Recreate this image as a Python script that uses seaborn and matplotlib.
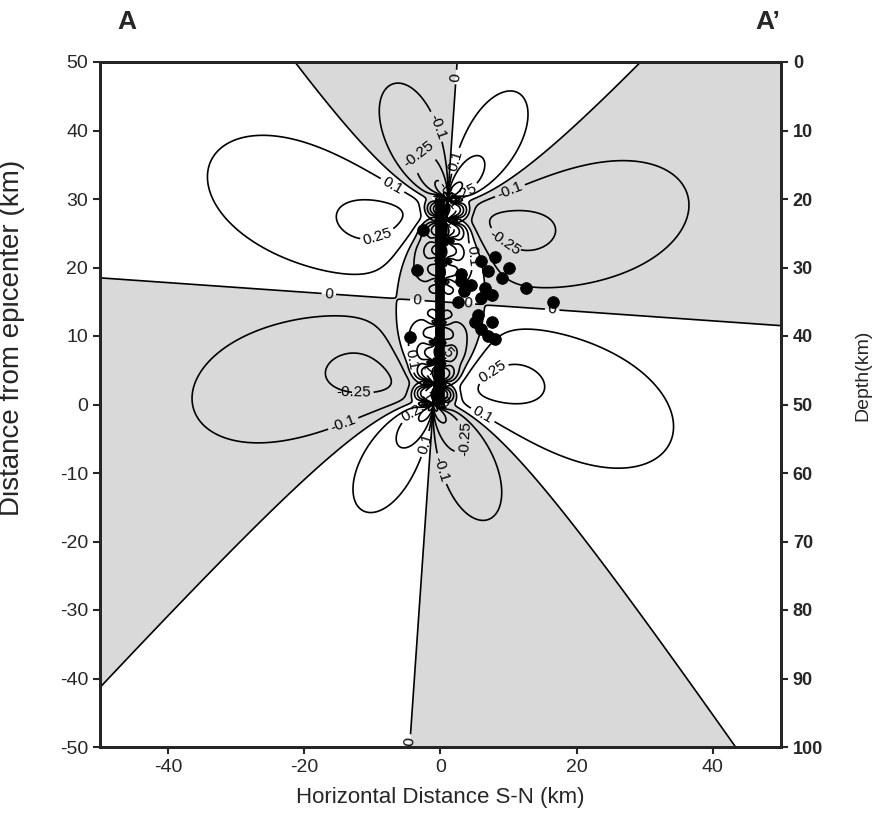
import numpy as np
import matplotlib
matplotlib.use("Agg")
import matplotlib.pyplot as plt
import seaborn as sns

# fault (km): node heights along the rupture and slip on each segment between nodes
fault_nodes = [0, 3, 6, 9, 12, 15, 18, 21, 24, 27, 30]
segment_slip = [0.3, 0.65, 0.85, 0.95, 1.0, 1.0, 0.95, 0.85, 0.65, 0.3]
fault_tilt = -4.0           # degrees from vertical (model only, bar drawn vertical)
stress_scale = -5.6         # bar per unit slip
receiver_angle = -35.7      # degrees, normal of receiver plane
friction = 0.5

levels = [-1, -0.5, -0.25, -0.1, 0, 0.1, 0.25, 0.5, 1]
level_labels = ["-1", "-0.5", "-0.25", "-0.1", "0", "0.1", "0.25", "0.5", "1"]

# aftershocks (km)
shock_x = [3, 3.5, 2.5, 4.5, 3, 6, 7, 6.5, 7.5, 6, 9, 10, 8, 16.5, 12.5,
           5, 6, 7, 8, 5.5, 7.5, -2.5, -4.5, -3.5]
shock_y = [18, 16.5, 15, 17.5, 19, 21, 19.5, 17, 16, 15.5, 18.5, 20, 21.5, 15, 17,
           12, 11, 10, 9.5, 13, 12, 25.5, 9.9, 19.6]

xticks = [-40, -20, 0, 20, 40]
yticks = [-50, -40, -30, -20, -10, 0, 10, 20, 30, 40, 50]
depth_ticks = [0, 10, 20, 30, 40, 50, 60, 70, 80, 90, 100]

sns.set_style("white")
plt.rcParams["font.family"] = ["Liberation Sans", "DejaVu Sans"]
plt.rcParams["axes.unicode_minus"] = False

x = np.linspace(-50, 50, 501)
y = np.linspace(-50, 50, 501)
X, Y = np.meshgrid(x, y)


def edge(u, v, d):
    # edge dislocation, glide plane along u
    r4 = (u**2 + v**2) ** 2 + 1e-6
    suu = -d * v * (3 * u**2 + v**2) / r4
    svv = d * v * (u**2 - v**2) / r4
    suv = d * u * (u**2 - v**2) / r4
    return suu, svv, suv


alpha = np.radians(90 + fault_tilt)
tx_f, ty_f = np.cos(alpha), np.sin(alpha)      # along fault
nx_f, ny_f = -np.sin(alpha), np.cos(alpha)     # across fault
mid = 0.5 * (fault_nodes[0] + fault_nodes[-1])

sxx = np.zeros_like(X)
syy = np.zeros_like(X)
sxy = np.zeros_like(X)
padded = [0.0] + segment_slip + [0.0]
for j, yn in enumerate(fault_nodes):
    b = (padded[j] - padded[j + 1]) * stress_scale
    px, py = (yn - mid) * tx_f, mid + (yn - mid) * ty_f
    u = (X - px) * tx_f + (Y - py) * ty_f
    v = (X - px) * nx_f + (Y - py) * ny_f
    suu, svv, suv = edge(u, v, b)
    sxx += tx_f**2 * suu + 2 * tx_f * nx_f * suv + nx_f**2 * svv
    syy += ty_f**2 * suu + 2 * ty_f * ny_f * suv + ny_f**2 * svv
    sxy += tx_f * ty_f * suu + (tx_f * ny_f + ty_f * nx_f) * suv + nx_f * ny_f * svv

p = np.radians(receiver_angle)
nx, ny = np.cos(p), np.sin(p)
tx, ty = -np.sin(p), np.cos(p)
tau = tx * nx * sxx + (tx * ny + ty * nx) * sxy + ty * ny * syy
sn = nx**2 * sxx + 2 * nx * ny * sxy + ny**2 * syy
cfs = tau + friction * sn

fig = plt.figure(figsize=(8.78, 8.18), dpi=100)
ax = fig.add_axes([100 / 878, 71 / 818, 681 / 878, 685 / 818])

ax.contourf(X, Y, cfs, levels=[-1e9, 0, 1e9], colors=["#d9d9d9", "white"])
cs = ax.contour(X, Y, cfs, levels=levels, colors="black", linewidths=1.2,
                linestyles="solid")
ax.clabel(cs, fmt=dict(zip(levels, level_labels)), fontsize=11, inline=True,
          inline_spacing=3)

ax.plot([0, 0], [fault_nodes[0], fault_nodes[-1]], color="black", lw=7,
        solid_capstyle="butt", zorder=5)
sns.scatterplot(x=shock_x, y=shock_y, ax=ax, color="black", s=70, marker="o",
                edgecolor="black", zorder=6, legend=False)

ax.set_xlim(-50, 50)
ax.set_ylim(-50, 50)
ax.set_xticks(xticks)
ax.set_yticks(yticks)
ax.tick_params(axis="both", labelsize=14, direction="out", length=5, width=1.5,
               top=True, bottom=True, left=True)
for t in ax.xaxis.get_major_ticks():
    t.tick2line.set_marker(3)
for s in ax.spines.values():
    s.set_linewidth(2)
    s.set_color("black")
ax.set_xlabel("Horizontal Distance S-N (km)", fontsize=16, labelpad=8)
ax.set_ylabel("Distance from epicenter (km)", fontsize=20)
ax.yaxis.set_label_coords(-0.11, 0.597)

ax2 = ax.twinx()
ax2.set_ylim(100, 0)
ax2.set_yticks(depth_ticks)
ax2.tick_params(axis="y", labelsize=13, direction="out", length=5, width=1.5)
for lab in ax2.get_yticklabels():
    lab.set_fontweight("bold")
ax2.set_ylabel("Depth(km)", fontsize=14)
ax2.yaxis.set_label_coords(1.108, 0.543)
for s in ax2.spines.values():
    s.set_linewidth(2)

fig.text(127 / 878, 1 - 22 / 818, "A", fontsize=19, fontweight="bold",
         ha="center", va="center")
fig.text(768 / 878, 1 - 22 / 818, "A\u2019", fontsize=19, fontweight="bold",
         ha="center", va="center")

fig.savefig("out.png", dpi=100)
